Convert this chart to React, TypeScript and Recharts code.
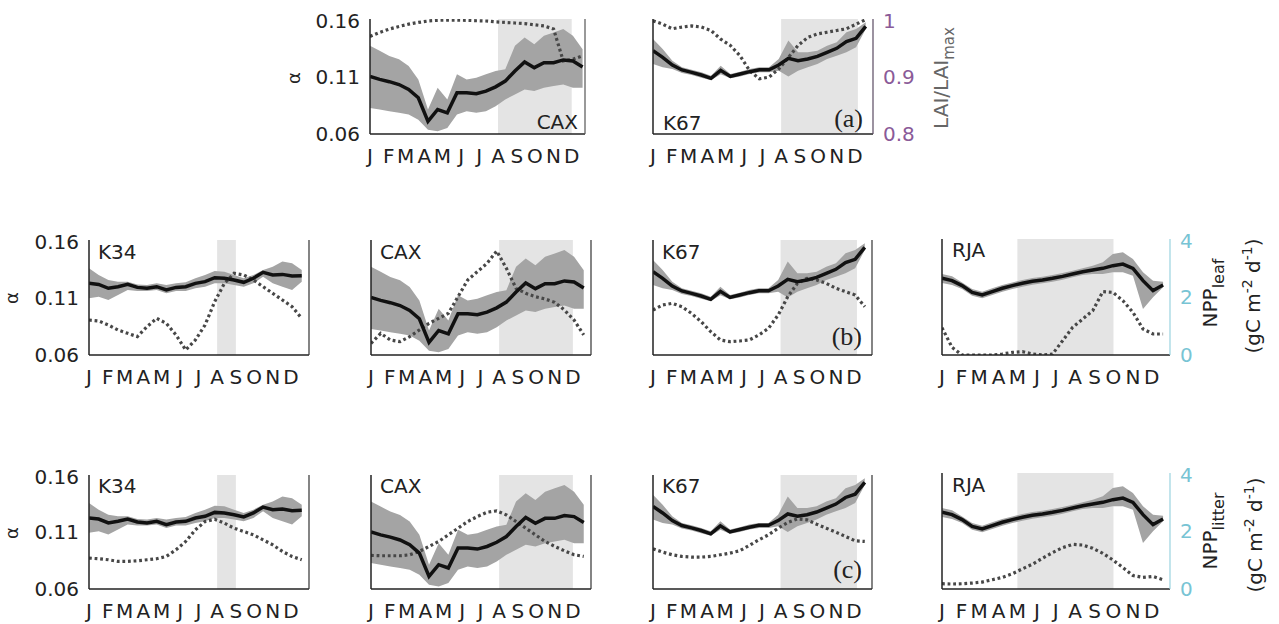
import { ComposedChart, Line, Area, XAxis, YAxis, ReferenceArea } from 'recharts'

const DOY = [1, 17, 33, 49, 65, 81, 97, 113, 129, 145, 161, 177, 193, 209, 225, 241, 257, 273, 289, 305, 321, 337, 353]
const MONTH_TICKS = [1, 32, 60, 91, 121, 152, 182, 213, 244, 274, 305, 335]
const MONTH_LABELS = ['J', 'F', 'M', 'A', 'M', 'J', 'J', 'A', 'S', 'O', 'N', 'D']
const ALPHA_TICKS = [0.06, 0.11, 0.16]
const LAI_TICKS = [0.8, 0.9, 1]
const NPP_TICKS = [0, 2, 4]

// alpha (black line) and its uncertainty band, per site
const CAX_ALPHA = [0.110, 0.1075, 0.1055, 0.103, 0.0988, 0.0915, 0.071, 0.0813, 0.0784, 0.0959, 0.0959, 0.095, 0.0973, 0.101, 0.106, 0.1148, 0.1227, 0.1177, 0.122, 0.122, 0.1244, 0.1235, 0.1183]
const CAX_LO = [0.0827, 0.0813, 0.0798, 0.0784, 0.0769, 0.0725, 0.0638, 0.0623, 0.0652, 0.0769, 0.0798, 0.0784, 0.0798, 0.0842, 0.09, 0.0944, 0.0988, 0.0973, 0.1002, 0.1017, 0.1031, 0.1002, 0.1002]
const CAX_HI = [0.1367, 0.1323, 0.1279, 0.125, 0.1192, 0.1075, 0.0813, 0.1002, 0.09, 0.1119, 0.1075, 0.109, 0.1119, 0.1148, 0.1163, 0.1367, 0.144, 0.1381, 0.1454, 0.1483, 0.1513, 0.1454, 0.1338]

const K67_ALPHA = [0.1325, 0.1267, 0.120, 0.1157, 0.1136, 0.1113, 0.1084, 0.1154, 0.1101, 0.1122, 0.1142, 0.1159, 0.1159, 0.120, 0.1258, 0.1238, 0.1252, 0.1275, 0.131, 0.1345, 0.1403, 0.1432, 0.1536]
const K67_LO = [0.1209, 0.118, 0.1165, 0.113, 0.1113, 0.109, 0.1067, 0.1119, 0.1084, 0.1101, 0.1122, 0.1136, 0.1136, 0.1151, 0.1101, 0.1151, 0.118, 0.1209, 0.1252, 0.1281, 0.131, 0.1354, 0.1513]
const K67_HI = [0.1426, 0.1339, 0.1238, 0.118, 0.1159, 0.1136, 0.1107, 0.1194, 0.1122, 0.1142, 0.1165, 0.118, 0.118, 0.1252, 0.1412, 0.131, 0.131, 0.1325, 0.1368, 0.1397, 0.1484, 0.1513, 0.1571]

const K34_ALPHA = [0.1223, 0.1214, 0.118, 0.1194, 0.1214, 0.1188, 0.118, 0.1194, 0.1165, 0.1188, 0.1194, 0.1223, 0.1238, 0.1272, 0.1267, 0.1252, 0.1232, 0.1267, 0.1319, 0.1296, 0.1301, 0.1287, 0.129]
const K34_LO = [0.1093, 0.1107, 0.1078, 0.1122, 0.1165, 0.1157, 0.1157, 0.1165, 0.1136, 0.1157, 0.1157, 0.118, 0.1194, 0.1223, 0.1223, 0.1209, 0.1194, 0.1223, 0.1281, 0.1223, 0.1194, 0.1165, 0.1238]
const K34_HI = [0.1354, 0.1296, 0.1252, 0.1238, 0.1238, 0.1214, 0.1209, 0.1223, 0.1209, 0.1223, 0.1232, 0.1267, 0.1296, 0.133, 0.1325, 0.1296, 0.1267, 0.1296, 0.1339, 0.1368, 0.1412, 0.1397, 0.1339]

const RJA_ALPHA = [0.1261, 0.1241, 0.1198, 0.114, 0.1117, 0.1146, 0.1175, 0.1198, 0.1218, 0.1235, 0.1247, 0.1261, 0.1278, 0.1298, 0.1318, 0.1333, 0.1347, 0.137, 0.1384, 0.1347, 0.1241, 0.1155, 0.1203]
const RJA_LO = [0.1221, 0.1203, 0.1169, 0.1111, 0.1089, 0.1117, 0.1146, 0.1169, 0.1189, 0.1206, 0.1218, 0.1232, 0.1249, 0.127, 0.129, 0.1298, 0.1298, 0.1313, 0.1313, 0.1284, 0.0997, 0.1097, 0.1183]
const RJA_HI = [0.1298, 0.1278, 0.1226, 0.1169, 0.1146, 0.1175, 0.1203, 0.1226, 0.1247, 0.1264, 0.1275, 0.129, 0.1307, 0.1327, 0.1347, 0.137, 0.1399, 0.1471, 0.1485, 0.1428, 0.1313, 0.1241, 0.1232]

// dotted series (right axis)
const CAX_LAI = [0.9697, 0.9767, 0.9825, 0.987, 0.991, 0.994, 0.9965, 0.9977, 0.998, 0.998, 0.9977, 0.997, 0.9965, 0.995, 0.994, 0.993, 0.992, 0.99, 0.988, 0.9825, 0.927, 0.93, 0.936]
const K67_LAI = [0.997, 0.991, 0.983, 0.986, 0.988, 0.986, 0.98, 0.965, 0.954, 0.936, 0.91, 0.896, 0.899, 0.913, 0.933, 0.954, 0.968, 0.974, 0.977, 0.98, 0.983, 0.991, 0.999]

const K34_LEAF = [1.217, 1.183, 1.043, 0.87, 0.754, 0.638, 0.986, 1.275, 1.101, 0.696, 0.174, 0.522, 1.043, 1.855, 2.493, 2.841, 2.783, 2.609, 2.377, 2.145, 1.913, 1.681, 1.275]
const CAX_LEAF = [0.406, 0.754, 0.522, 0.464, 0.638, 0.87, 1.101, 1.275, 1.449, 2.029, 2.609, 2.899, 3.188, 3.617, 3.014, 2.319, 2.145, 2.029, 1.948, 1.832, 1.565, 1.217, 0.696]
const K67_LEAF = [1.565, 1.739, 1.797, 1.681, 1.449, 1.159, 0.812, 0.522, 0.464, 0.487, 0.522, 0.696, 0.928, 1.391, 2.029, 2.493, 2.667, 2.609, 2.493, 2.319, 2.203, 2.087, 1.681]
const RJA_LEAF = [0.943, 0.264, 0, 0, 0, 0, 0.034, 0.092, 0.115, 0.034, 0, 0.034, 0.494, 0.954, 1.241, 1.529, 2.184, 2.161, 1.874, 1.471, 0.897, 0.724, 0.724]

const K34_LITTER = [1.085, 1.061, 1.026, 0.968, 0.968, 0.991, 1.026, 1.061, 1.143, 1.376, 1.668, 2.076, 2.367, 2.449, 2.309, 2.134, 2.017, 1.901, 1.726, 1.551, 1.318, 1.143, 1.026]
const CAX_LITTER = [1.178, 1.166, 1.166, 1.166, 1.201, 1.318, 1.493, 1.668, 1.901, 2.134, 2.367, 2.542, 2.694, 2.74, 2.6, 2.367, 2.134, 1.901, 1.668, 1.493, 1.341, 1.201, 1.143]
const K67_LITTER = [1.411, 1.294, 1.201, 1.143, 1.12, 1.12, 1.143, 1.201, 1.259, 1.341, 1.528, 1.726, 1.901, 2.134, 2.332, 2.461, 2.426, 2.274, 2.134, 1.994, 1.843, 1.691, 1.668]
const RJA_LITTER = [0.182, 0.171, 0.182, 0.205, 0.239, 0.319, 0.399, 0.524, 0.695, 0.855, 1.06, 1.254, 1.425, 1.538, 1.516, 1.402, 1.231, 1.003, 0.741, 0.467, 0.399, 0.433, 0.319]

// dry season (shaded) per site, in day of year
const DRY = {
  CAX: [213, 335],
  K67: [213, 340],
  K34: [213, 244],
  RJA: [121, 274],
}

const SITES = {
  CAX: { alpha: CAX_ALPHA, lo: CAX_LO, hi: CAX_HI },
  K67: { alpha: K67_ALPHA, lo: K67_LO, hi: K67_HI },
  K34: { alpha: K34_ALPHA, lo: K34_LO, hi: K34_HI },
  RJA: { alpha: RJA_ALPHA, lo: RJA_LO, hi: RJA_HI },
}

const FONT = 'DejaVu Sans'
const INK = '#222'
const PURPLE = '#8a5a98'
const CYAN = '#78c4d4'

type SiteKey = keyof typeof SITES

interface PanelProps {
  site: SiteKey
  dotted: number[]
  left: number
  top: number
  w: number
  h: number
  xMax?: number
  rightDomain: [number, number]
  rightTicks?: number[]
  rightColor?: string
  rightLine?: string
  showLeft?: boolean
}

const ML = 60
const MR = 45
const MT = 10
const XH = 35

function Panel({ site, dotted, left, top, w, h, xMax = 365, rightDomain, rightTicks, rightColor = INK, rightLine = '#333', showLeft }: PanelProps) {
  const s = SITES[site]
  const rows = DOY.map((d, i) => ({ doy: d, alpha: s.alpha[i], band: [s.lo[i], s.hi[i]], dot: dotted[i] }))
  const dry = DRY[site]
  return (
    <div style={{ position: 'absolute', left: left - ML, top: top - MT }}>
      <ComposedChart width={ML + w + MR} height={MT + h + XH} data={rows} margin={{ top: MT, right: 0, bottom: 0, left: 0 }}>
        <XAxis
          dataKey="doy"
          type="number"
          domain={[1, xMax]}
          ticks={MONTH_TICKS}
          interval={0}
          allowDataOverflow
          tickFormatter={(v: number) => MONTH_LABELS[MONTH_TICKS.indexOf(v)]}
          tickLine={false}
          tickMargin={9}
          height={XH}
          axisLine={{ stroke: INK, strokeWidth: 1.5 }}
          tick={{ fill: INK, fontSize: 20, fontFamily: FONT }}
        />
        <YAxis
          yAxisId="a"
          domain={[0.06, 0.16]}
          ticks={ALPHA_TICKS}
          allowDataOverflow
          width={ML}
          tickLine={false}
          tickMargin={4}
          axisLine={{ stroke: INK, strokeWidth: 1.5 }}
          tickFormatter={(v: number) => v.toFixed(2)}
          tick={showLeft ? { fill: INK, fontSize: 20, fontFamily: FONT } : false}
        />
        <YAxis
          yAxisId="r"
          orientation="right"
          domain={rightDomain}
          ticks={rightTicks}
          allowDataOverflow
          width={MR}
          tickLine={false}
          tickMargin={4}
          axisLine={{ stroke: rightLine, strokeWidth: 1.2 }}
          tick={rightTicks ? { fill: rightColor, fontSize: 20, fontFamily: FONT, textAnchor: 'start' } : false}
        />
        <ReferenceArea yAxisId="a" x1={dry[0]} x2={dry[1]} fill="#e4e4e4" fillOpacity={1} stroke="none" />
        <Area yAxisId="a" dataKey="band" type="linear" fill="#a4a4a4" fillOpacity={1} stroke="none" isAnimationActive={false} />
        <Line yAxisId="r" dataKey="dot" type="linear" stroke="#474747" strokeWidth={3.2} strokeDasharray="2.8 2.8" dot={false} isAnimationActive={false} />
        <Line yAxisId="a" dataKey="alpha" type="linear" stroke="#111" strokeWidth={3.5} dot={false} isAnimationActive={false} />
      </ComposedChart>
    </div>
  )
}

function Sub({ children, dy = 6, size = 15 }: { children: string; dy?: number; size?: number }) {
  return (
    <tspan dy={dy} fontSize={size}>
      {children}
    </tspan>
  )
}

function UnitLabel({ x, y }: { x: number; y: number }) {
  return (
    <text transform={`translate(${x},${y}) rotate(-90)`} textAnchor="middle" fontSize={20} fontFamily={FONT} fill={INK}>
      (gC m<tspan dy={-8} fontSize={14}>-2</tspan>
      <tspan dy={8}> d</tspan>
      <tspan dy={-8} fontSize={14}>-1</tspan>
      <tspan dy={8}>)</tspan>
    </text>
  )
}

export default function App() {
  const txt = { fontSize: 20, fontFamily: FONT, fill: INK }
  const serif = { fontSize: 26, fontFamily: 'Liberation Serif', fill: INK }
  return (
    <div style={{ position: 'absolute', left: 0, top: 0, width: 1279, height: 624, background: '#fff' }}>
      {/* row (a): LAI */}
      <Panel site="CAX" dotted={CAX_LAI} left={370} top={19} w={215} h={115} xMax={357} rightDomain={[0.8, 1]} rightLine="#555" showLeft />
      <Panel site="K67" dotted={K67_LAI} left={653} top={19} w={220} h={115} rightDomain={[0.8, 1]} rightTicks={LAI_TICKS} rightColor={PURPLE} rightLine="#5a4a62" />

      {/* row (b): NPP leaf */}
      <Panel site="K34" dotted={K34_LEAF} left={89} top={240} w={220} h={115} rightDomain={[0, 4]} showLeft />
      <Panel site="CAX" dotted={CAX_LEAF} left={371} top={240} w={220} h={115} rightDomain={[0, 4]} />
      <Panel site="K67" dotted={K67_LEAF} left={653} top={240} w={219} h={115} rightDomain={[0, 4]} />
      <Panel site="RJA" dotted={RJA_LEAF} left={942} top={239} w={228} h={116} xMax={364} rightDomain={[0, 4]} rightTicks={NPP_TICKS} rightColor={CYAN} rightLine="#9ad3df" />

      {/* row (c): NPP litter */}
      <Panel site="K34" dotted={K34_LITTER} left={89} top={475} w={220} h={114} rightDomain={[0, 4]} showLeft />
      <Panel site="CAX" dotted={CAX_LITTER} left={371} top={475} w={220} h={114} rightDomain={[0, 4]} />
      <Panel site="K67" dotted={K67_LITTER} left={653} top={475} w={219} h={114} rightDomain={[0, 4]} />
      <Panel site="RJA" dotted={RJA_LITTER} left={942} top={473} w={228} h={116} xMax={364} rightDomain={[0, 4]} rightTicks={NPP_TICKS} rightColor={CYAN} rightLine="#9ad3df" />

      <svg width={1279} height={624} style={{ position: 'absolute', left: 0, top: 0, pointerEvents: 'none' }}>
        {/* alpha axis titles */}
        <text transform="translate(300,78) rotate(-90)" textAnchor="middle" fontSize={18} fontFamily={FONT} fill={INK}>α</text>
        <text transform="translate(18,298) rotate(-90)" textAnchor="middle" fontSize={18} fontFamily={FONT} fill={INK}>α</text>
        <text transform="translate(18,533) rotate(-90)" textAnchor="middle" fontSize={18} fontFamily={FONT} fill={INK}>α</text>

        {/* site labels */}
        <text x={578} y={129} textAnchor="end" {...txt}>CAX</text>
        <text x={663} y={130} {...txt}>K67</text>
        <text x={863} y={127} textAnchor="end" {...serif}>(a)</text>

        <text x={98} y={259} {...txt}>K34</text>
        <text x={380} y={259} {...txt}>CAX</text>
        <text x={662} y={259} {...txt}>K67</text>
        <text x={862} y={345} textAnchor="end" {...serif}>(b)</text>
        <text x={952} y={257} {...txt}>RJA</text>

        <text x={98} y={493} {...txt}>K34</text>
        <text x={380} y={493} {...txt}>CAX</text>
        <text x={662} y={493} {...txt}>K67</text>
        <text x={862} y={578} textAnchor="end" {...serif}>(c)</text>
        <text x={952} y={492} {...txt}>RJA</text>

        {/* right axis titles */}
        <text transform="translate(948,78) rotate(-90)" textAnchor="middle" fontSize={20} fontFamily={FONT} fill="#666">
          LAI/LAI<Sub>max</Sub>
        </text>
        <text transform="translate(1217,293) rotate(-90)" textAnchor="middle" fontSize={20} fontFamily={FONT} fill={INK}>
          NPP<Sub dy={7} size={16}>leaf</Sub>
        </text>
        <UnitLabel x={1260} y={296} />
        <text transform="translate(1217,531) rotate(-90)" textAnchor="middle" fontSize={20} fontFamily={FONT} fill={INK}>
          NPP<Sub dy={7} size={16}>litter</Sub>
        </text>
        <UnitLabel x={1262} y={535} />
      </svg>
    </div>
  )
}
